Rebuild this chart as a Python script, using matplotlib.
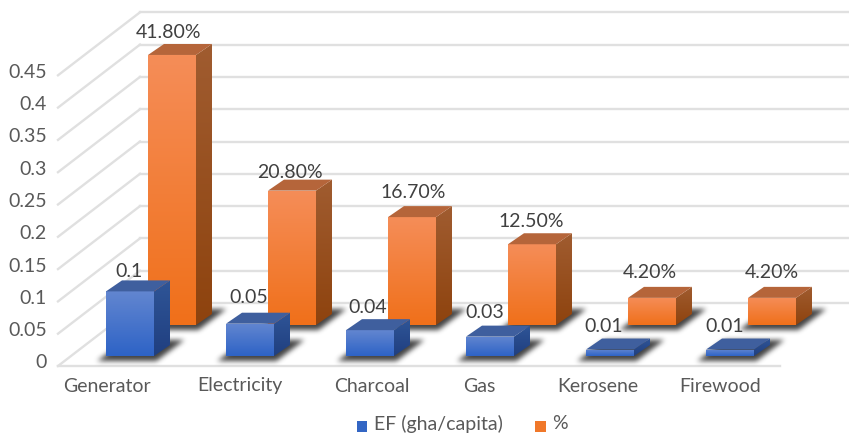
import numpy as np
import matplotlib
matplotlib.use('Agg')
import matplotlib.pyplot as plt
from matplotlib.colors import to_rgb
from matplotlib.patches import Polygon, Rectangle

plt.rcParams['font.family'] = ['Lato', 'DejaVu Sans']

# datos
categories = ['Generator', 'Electricity', 'Charcoal', 'Gas', 'Kerosene', 'Firewood']
ef_values = [0.1, 0.05, 0.04, 0.03, 0.01, 0.01]
ef_labels = ['0.1', '0.05', '0.04', '0.03', '0.01', '0.01']
pct_values = [0.418, 0.208, 0.167, 0.125, 0.042, 0.042]
pct_labels = ['41.80%', '20.80%', '16.70%', '12.50%', '4.20%', '4.20%']
y_ticks = [0, 0.05, 0.1, 0.15, 0.2, 0.25, 0.3, 0.35, 0.4, 0.45]
y_tick_labels = ['0', '0.05', '0.1', '0.15', '0.2', '0.25', '0.3', '0.35', '0.4', '0.45']

# geometria de la caja 3D (en pixeles)
W, H = 849, 434
PX = 646.0          # pixeles por unidad
FRONT_Y = 366
BACK_Y = 303
FRONT_X0, FRONT_X1 = 58, 780
BACK_X0, BACK_X1 = 140, 849
BAR_W = 48
DX, DY = 16, 11
EF_X0, PCT_X0, STEP = 106, 148, 120
EF_FLOOR, PCT_FLOOR = 356, 325
cat_x = [107, 240, 372, 479, 598, 720]
ef_dx = [23, 23, 22, 19, 18, 19]
ef_dy = [9, 15, 12, 13, 12, 12]
pct_dx = [21, 22, 25, 23, 22, 24]
pct_dy = [11, 7, 14, 12, 14, 14]

fig = plt.figure(figsize=(W / 100, H / 100), dpi=100)
ax = fig.add_axes([0, 0, 1, 1])


def grad(verts, top, bottom, z):
    # poligono con degradado vertical
    verts = np.array(verts, dtype=float)
    c0, c1 = np.array(to_rgb(top)), np.array(to_rgb(bottom))
    t = np.linspace(0, 1, 64)[:, None, None]
    img = c0[None, None, :] * (1 - t) + c1[None, None, :] * t
    im = ax.imshow(img, extent=(verts[:, 0].min(), verts[:, 0].max(),
                                verts[:, 1].max(), verts[:, 1].min()),
                   aspect='auto', zorder=z, interpolation='bilinear')
    clip = Polygon(verts, transform=ax.transData, fc='none', ec='none')
    ax.add_patch(clip)
    im.set_clip_path(clip)


def blur(a, n=5, times=3):
    k = np.ones(n) / n
    for _ in range(times):
        a = np.apply_along_axis(lambda r: np.convolve(r, k, mode='same'), 0, a)
        a = np.apply_along_axis(lambda r: np.convolve(r, k, mode='same'), 1, a)
    return a


def shadows(x_start, floor, z):
    # sombra difusa sobre el piso
    a = np.zeros((H, W))
    for i in range(len(categories)):
        x0 = x_start + i * STEP
        for y in range(floor - 16, floor + 5):
            skew = (floor + 5 - y) * 16 / 12
            a[y, int(x0 - 9 + skew):int(x0 + BAR_W + 2 + skew)] = 1
    a = blur(a) * 0.92
    img = np.zeros((H, W, 4))
    img[..., :3] = 0.2
    img[..., 3] = a
    ax.imshow(img, extent=(0, W, H, 0), aspect='auto', zorder=z, interpolation='bilinear')


def bars(values, x_start, floor, cols, z):
    for i, v in enumerate(values):
        x0 = x_start + i * STEP
        x1 = x0 + BAR_W
        top = floor - v * PX
        grad([(x0, top), (x1, top), (x1, floor), (x0, floor)], cols[0], cols[1], z)
        grad([(x1, top), (x1 + DX, top - DY), (x1 + DX, floor - DY), (x1, floor)], cols[2], cols[3], z)
        ax.add_patch(Polygon([(x0, top), (x0 + DX, top - DY), (x1 + DX, top - DY), (x1, top)],
                             fc=cols[4], ec='none', zorder=z))


# rejilla: pared izquierda y pared del fondo
for t in y_ticks:
    fy = FRONT_Y - t * PX
    by = BACK_Y - t * PX
    ax.plot([FRONT_X0, BACK_X0], [fy, by], color='#E0E0E0', lw=1.7, zorder=1)
    ax.plot([BACK_X0, BACK_X1], [by, by], color='#E0E0E0', lw=1.7, zorder=1)
ax.plot([FRONT_X0, FRONT_X1], [FRONT_Y, FRONT_Y], color='#E0E0E0', lw=1.7, zorder=1)

shadows(PCT_X0, PCT_FLOOR, 2)
bars(pct_values, PCT_X0, PCT_FLOOR, ('#F58D58', '#F0701A', '#A05C30', '#8E430E', '#B5653A'), 3)
shadows(EF_X0, EF_FLOOR, 4)
bars(ef_values, EF_X0, EF_FLOOR, ('#6286D0', '#2E63C6', '#2F5597', '#203F80', '#3F5F9E'), 5)

# textos
for t, s in zip(y_ticks, y_tick_labels):
    ax.text(47, FRONT_Y - t * PX - 3, s, ha='right', va='center', fontsize=14, color='#595959', zorder=7)
for x, s in zip(cat_x, categories):
    ax.text(x, 386, s, ha='center', va='center', fontsize=14, color='#595959', zorder=7)
for i, (v, s) in enumerate(zip(ef_values, ef_labels)):
    ax.text(EF_X0 + i * STEP + ef_dx[i], EF_FLOOR - v * PX - DY - ef_dy[i], s, ha='center', va='center',
            fontsize=14, color='#404040', zorder=7)
for i, (v, s) in enumerate(zip(pct_values, pct_labels)):
    ax.text(PCT_X0 + i * STEP + pct_dx[i], PCT_FLOOR - v * PX - DY - pct_dy[i], s, ha='center', va='center',
            fontsize=14, color='#404040', zorder=7)

# leyenda
ax.add_patch(Rectangle((357, 421), 10, 11, fc='#3366C4', ec='none', zorder=7))
ax.text(374, 423.5, 'EF (gha/capita)', ha='left', va='center', fontsize=14, color='#595959', zorder=7)
ax.add_patch(Rectangle((535, 421), 11, 11, fc='#F0782A', ec='none', zorder=7))
ax.text(552, 423.5, '%', ha='left', va='center', fontsize=14, color='#595959', zorder=7)

ax.set_xlim(0, W)
ax.set_ylim(H, 0)
ax.axis('off')
fig.savefig('out.png', dpi=100)
